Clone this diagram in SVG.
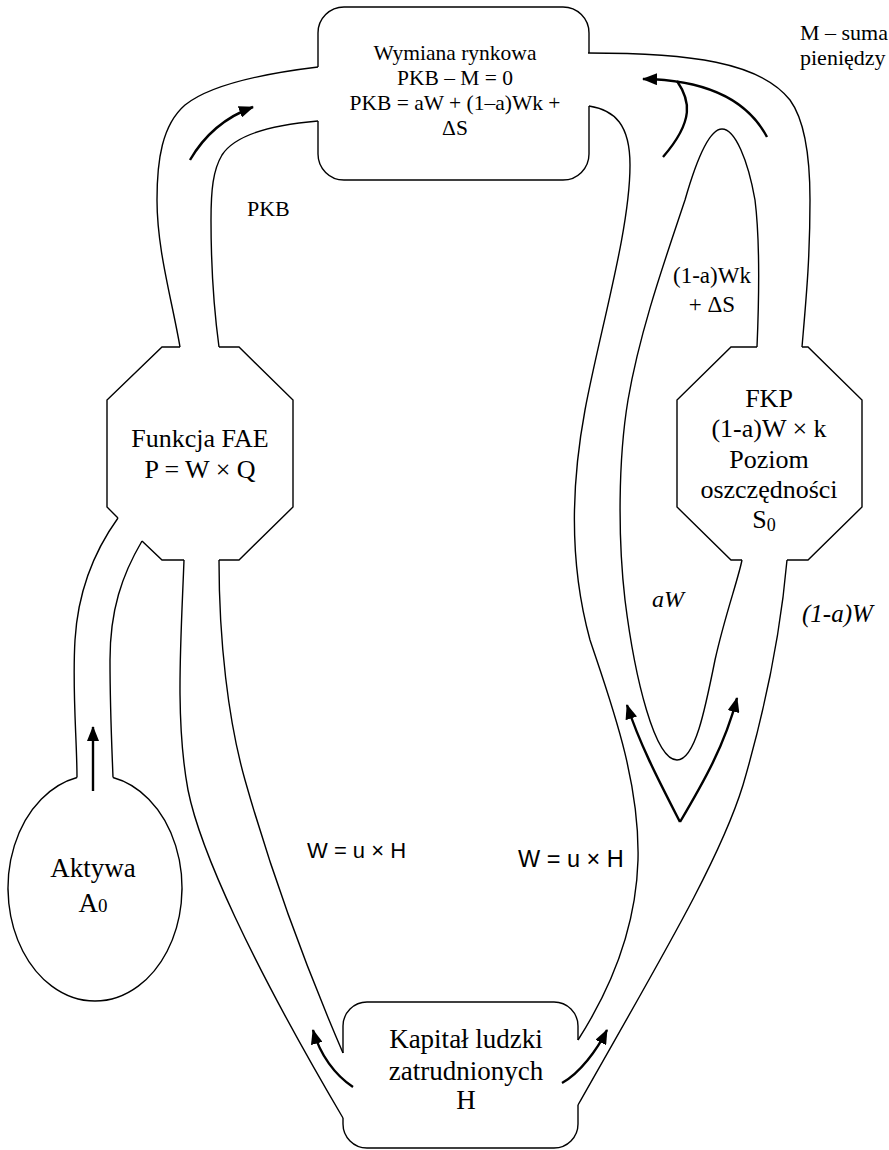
<svg xmlns="http://www.w3.org/2000/svg" width="889" height="1150" viewBox="0 0 889 1150">
<style>
.o{fill:none;stroke:#000;stroke-width:1.4;stroke-linecap:butt}
.a{fill:none;stroke:#000;stroke-width:2.4}
.t{font-family:"Liberation Serif","Times New Roman",serif;fill:#000;text-anchor:middle}
.l{font-family:"Liberation Serif","Times New Roman",serif;fill:#000}
.s{font-family:"Liberation Sans",Arial,sans-serif;fill:#000}
.i{font-family:"Liberation Serif","Times New Roman",serif;font-style:italic;fill:#000}
</style>
<defs>
<marker id="ah" viewBox="0 0 15 12" refX="14" refY="6" markerWidth="15" markerHeight="12" markerUnits="userSpaceOnUse" orient="auto">
<path d="M0,0 L15,6 L0,12 z" fill="#000"/>
</marker>
</defs>
<rect width="889" height="1150" fill="#fff"/>

<g id="node-wymiana">
<path class="o" d="M318,67 L318,33 A26,26 0 0 1 344,7 L563,7 A26,26 0 0 1 589,33 L589,53 M589,106 L589,154 A26,26 0 0 1 563,180 L344,180 A26,26 0 0 1 318,154 L318,121"/>
<text class="t" font-size="21.5"><tspan x="455" y="60">Wymiana rynkowa</tspan><tspan x="455" y="85">PKB – M = 0</tspan><tspan x="455" y="110">PKB = aW + (1–a)Wk +</tspan><tspan x="455" y="135">ΔS</tspan></text>
</g>

<g id="node-fae">
<path class="o" d="M219,347 L239,347 L293,400 L293,507 L239,560 L219,560 M184,560 L162,560 L142,541 M118,518 L107,507 L107,400 L162,347 L180,347"/>
<text class="t" font-size="26"><tspan x="200" y="447">Funkcja FAE</tspan><tspan x="200" y="478">P = W × Q</tspan></text>
</g>

<g id="node-fkp">
<path class="o" d="M802,347 L808,347 L862,400 L862,507 L808,560 L787,560 M742,560 L731,560 L677,507 L677,400 L731,347 L757,347"/>
<text class="t" font-size="26"><tspan x="769" y="407">FKP</tspan><tspan x="769" y="437">(1-a)W × k</tspan><tspan x="769" y="468">Poziom</tspan><tspan x="769" y="498">oszczędności</tspan><tspan x="764" y="528">S<tspan font-size="18" dy="3">0</tspan></tspan></text>
</g>

<g id="node-aktywa">
<path class="o" d="M113,777.5 A87,113 0 1 1 77,777.5"/>
<text class="t" font-size="27"><tspan x="93" y="877">Aktywa</tspan><tspan x="93" y="912">A<tspan font-size="19">0</tspan></tspan></text>
</g>

<g id="node-kapital">
<path class="o" d="M343,1053 L343,1026 A24,24 0 0 1 367,1002 L554,1002 A24,24 0 0 1 578,1026 L578,1040 M578,1105 L578,1124 A24,24 0 0 1 554,1148 L367,1148 A24,24 0 0 1 343,1124 L343,1118"/>
<text class="t" font-size="27"><tspan x="466" y="1048">Kapitał ludzki</tspan><tspan x="466" y="1080">zatrudnionych</tspan><tspan x="466" y="1109">H</tspan></text>
</g>

<g id="connectors">
<path class="o" d="M588,53 C690,53 760,62 790,100 C806,122 810,160 810,200 C810,260 806,300 802,347"/>
<path class="o" d="M757,347 C759,300 760,240 755,200 C748,160 735,129 722,129 C708,129 695,165 685,200 C665,260 640,330 628,400 C618,460 618,540 625,600 C635,680 655,760 677,760 C695,760 705,710 715,660 C725,615 738,580 742,560"/>
<path class="o" d="M589,106 C615,110 630,125 630,165 C630,230 600,330 585,410 C572,480 568,560 590,640 C610,700 640,780 638,860 C636,930 610,990 578,1040"/>
<path class="o" d="M787,560 C780,640 762,720 743,785 C720,860 660,960 578,1105"/>
<path class="o" d="M318,67 C260,74 210,85 185,105 C162,125 157,160 157,200 C157,250 172,300 180,347"/>
<path class="o" d="M318,121 C270,125 235,135 222,155 C213,170 211,190 211,220 C211,270 214,310 219,347"/>
<path class="o" d="M118,518 C95,550 78,590 75,640 C72,690 77,740 77,777.5"/>
<path class="o" d="M142,541 C122,575 110,610 110,660 C110,710 112,750 113,777.5"/>
<path class="o" d="M184,560 C181,640 175,720 188,790 C200,850 250,960 343,1118"/>
<path class="o" d="M219,560 C219,640 228,720 245,780 C262,840 290,930 343,1053"/>

<path class="a" marker-end="url(#ah)" d="M190,160 Q212,122 253,107"/>
<path class="a" marker-end="url(#ah)" d="M767,137 C750,105 715,80 643,79"/>
<path class="a" d="M677,81 C690,100 695,120 663,157"/>
<path class="a" marker-end="url(#ah)" d="M680,822 C660,783 640,745 627,705"/>
<path class="a" marker-end="url(#ah)" d="M680,822 C703,783 725,745 737,698"/>
<path class="a" marker-end="url(#ah)" d="M93,791 L93,727"/>
<path class="a" marker-end="url(#ah)" d="M353,1087 C335,1075 320,1055 313,1030"/>
<path class="a" marker-end="url(#ah)" d="M562,1083 C580,1073 597,1050 607,1030"/>
</g>

<g id="labels">
<text class="l" font-size="22" x="800" y="40">M – suma</text>
<text class="l" font-size="22" x="800" y="65">pieniędzy</text>
<text class="l" font-size="22" x="247" y="216">PKB</text>
<text class="t" font-size="23"><tspan x="712" y="283">(1-a)Wk</tspan><tspan x="712" y="312">+ ΔS</tspan></text>
<text class="i" font-size="24" x="652" y="607">aW</text>
<text class="i" font-size="25" x="802" y="622">(1-a)W</text>
<text class="s" font-size="22" x="307" y="858">W = u × H</text>
<text class="s" font-size="23.5" x="518" y="867">W = u × H</text>
</g>
</svg>
